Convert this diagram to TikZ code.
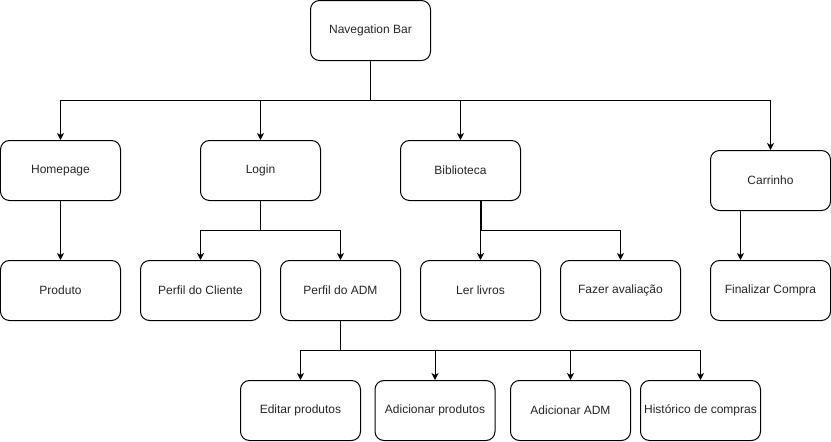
\documentclass[tikz,border=0pt]{standalone}
\usepackage{fontspec}
\setmainfont{Liberation Sans}
\usetikzlibrary{arrows.meta}
\begin{document}
\begin{tikzpicture}[x=1pt,y=-1pt,
  box/.style={draw=black,line width=1pt,rounded corners=9pt,minimum width=120pt,minimum height=60pt,inner sep=0pt,font=\fontsize{12pt}{14pt}\selectfont,text=black!85},
  conn/.style={draw=black,line width=1pt},
  arr/.style={conn,-{Stealth[length=7pt,width=7pt,inset=2pt]}}]
\useasboundingbox (-0.5,-0.5) rectangle (830.5,441.5);
\node[box] (nav) at (370,30) {Navegation Bar};
\node[box] (home) at (60,170) {Homepage};
\node[box] (login) at (260,170) {Login};
\node[box] (bib) at (460,170) {Biblioteca};
\node[box] (car) at (770,180) {Carrinho};
\node[box] (prod) at (60,290) {Produto};
\node[box] (pcli) at (200,290) {Perfil do Cliente};
\node[box] (padm) at (340,290) {Perfil do ADM};
\node[box] (ler) at (480,290) {Ler livros};
\node[box] (aval) at (620,290) {Fazer avaliação};
\node[box] (fin) at (770,290) {Finalizar Compra};
\node[box] (edit) at (300,410) {Editar produtos};
\node[box] (addp) at (434.5,410) {Adicionar produtos};
\node[box] (adda) at (570,410) {Adicionar ADM};
\node[box] (hist) at (700,410) {Histórico de compras};
\coordinate (j1) at (370,100);
\coordinate (j2) at (260,230);
\coordinate (j3) at (480.5,230);
\coordinate (j4) at (340,350);
\coordinate (c1) at (740,210);
\draw[arr] (nav.south) -- (j1) -| (home.north);
\draw[arr] (j1) -| (login.north);
\draw[arr] (j1) -| (bib.north);
\draw[arr] (j1) -| (car.north);
\draw[arr] (login.south) -- (j2) -| (pcli.north);
\draw[arr] (j2) -| (padm.north);
\draw[conn,line width=2pt] (bib.south -| j3) -- (j3);
\draw[arr] (bib.south -| ler.north) -- (ler.north);
\draw[arr] (j3) -| (aval.north);
\draw[arr] (home.south) -- (prod.north);
\draw[arr] (c1) -- (c1 |- fin.north);
\draw[arr] (padm.south) -- (j4) -| (edit.north);
\draw[arr] (j4) -| (addp.north);
\draw[arr] (j4) -| (adda.north);
\draw[arr] (j4) -| (hist.north);
\end{tikzpicture}
\end{document}
